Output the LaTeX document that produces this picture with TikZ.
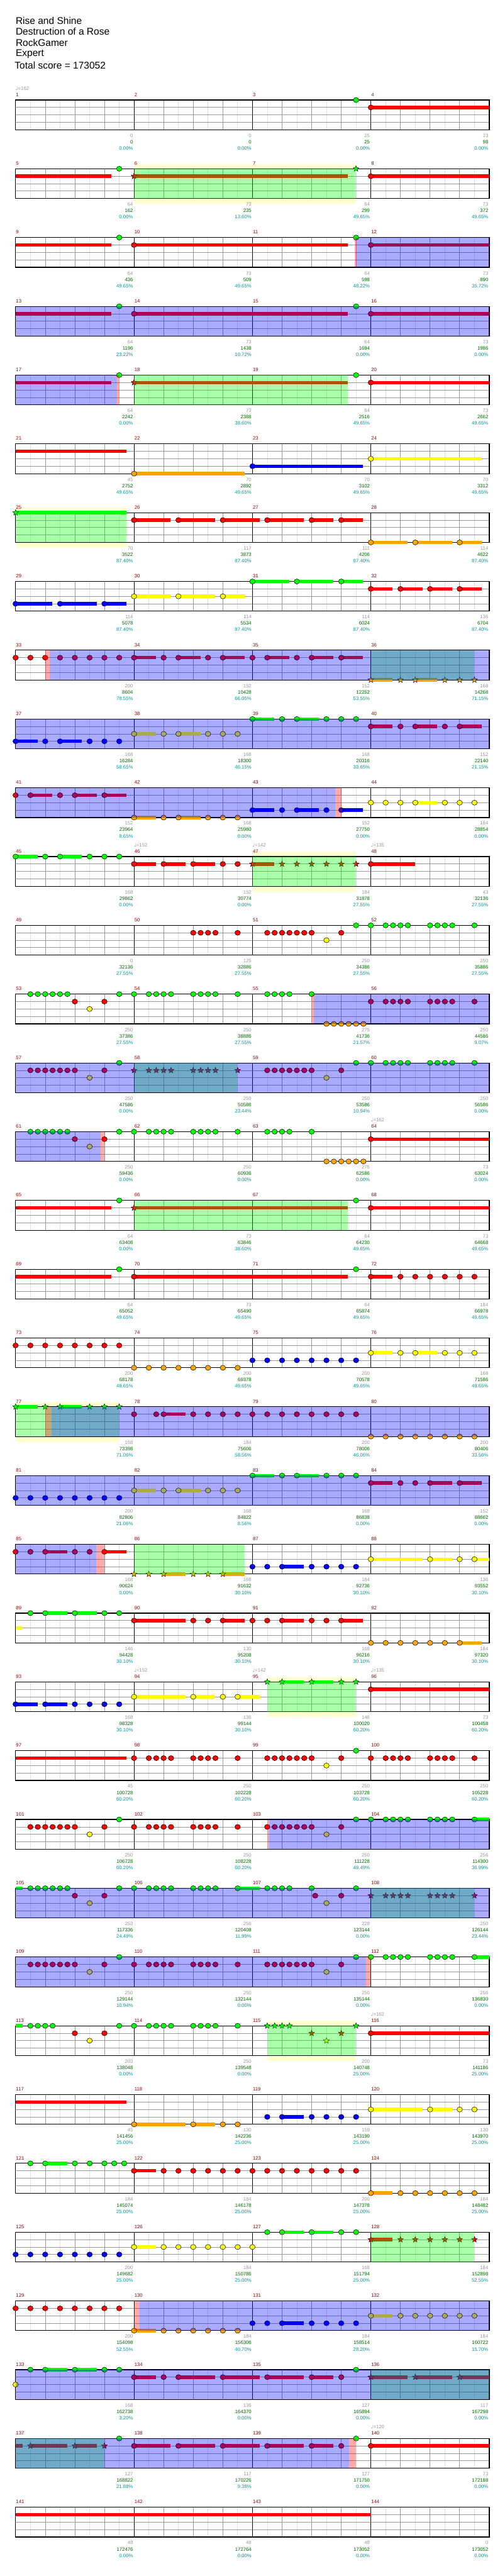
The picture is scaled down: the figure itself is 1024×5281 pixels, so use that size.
\documentclass[tikz,border=0pt]{standalone}
\usepackage{fontspec}
\setmainfont{Liberation Sans}
\newfontfamily\dejavu{DejaVu Sans}
\usetikzlibrary{shapes.geometric}
\definecolor{cG}{HTML}{00FF00}
\definecolor{cR}{HTML}{FF0000}
\definecolor{cY}{HTML}{FFFF00}
\definecolor{cB}{HTML}{0000FF}
\definecolor{cO}{HTML}{FFA500}
\definecolor{ybg}{HTML}{FFFFD0}
\definecolor{mnumc}{HTML}{990000}
\definecolor{grayc}{HTML}{999999}
\definecolor{greenc}{HTML}{006600}
\definecolor{tealc}{HTML}{009999}
\definecolor{halfc}{HTML}{E0E0E0}
\tikzset{
  noteline/.style={draw=black,line width=0.5pt},
  starnote/.style={star,star points=5,star point ratio=2.3,minimum size=9.5pt,inner sep=0pt,draw=black,line width=0.4pt},
  halfl/.style={draw=halfc,line width=0.75pt},
  beatl/.style={draw=grayc,line width=0.75pt},
  measl/.style={draw=black,line width=0.75pt},
  staffb/.style={draw=black,line width=1.1pt},
  mnum/.style={anchor=west,inner sep=0pt,text=mnumc,font=\fontsize{7.5}{9}\selectfont},
  ngray/.style={anchor=east,inner sep=0pt,text=grayc,font=\fontsize{7.5}{9}\selectfont},
  ngreen/.style={anchor=east,inner sep=0pt,text=greenc,font=\fontsize{7.5}{9}\selectfont},
  nteal/.style={anchor=east,inner sep=0pt,text=tealc,font=\fontsize{7.5}{9}\selectfont},
  tempost/.style={anchor=west,inner sep=0pt,text=grayc,font=\fontsize{7.5}{9}\selectfont},
  titlest/.style={anchor=west,inner sep=0pt,font=\fontsize{15}{18}\selectfont},
}
% notes
\newcommand\ntsdraw[3]{\foreach \p in {#3}{\draw[noteline,fill=#1] (\p,#2) ellipse [x radius=4.2pt,y radius=3.9pt];}}
\newcommand\noteG[1]{\ntsdraw{cG}{0}{#1}}
\newcommand\noteR[1]{\ntsdraw{cR}{15.25}{#1}}
\newcommand\noteY[1]{\ntsdraw{cY}{30.5}{#1}}
\newcommand\noteB[1]{\ntsdraw{cB}{45.75}{#1}}
\newcommand\noteO[1]{\ntsdraw{cO}{61}{#1}}
\newcommand\stsdraw[3]{\foreach \p in {#3}{\node[starnote,fill=#1] at (\p,#2) {};}}
\newcommand\starG[1]{\stsdraw{cG}{0}{#1}}
\newcommand\starR[1]{\stsdraw{cR}{15.25}{#1}}
\newcommand\starY[1]{\stsdraw{cY}{30.5}{#1}}
\newcommand\starO[1]{\stsdraw{cO}{61}{#1}}
\newcommand\susdraw[4]{\fill[#1] (#3,#2-3.5) rectangle (#4,#2+3.5);}
\newcommand\susG[2]{\susdraw{cG}{0}{#1}{#2}}
\newcommand\susR[2]{\susdraw{cR}{15.25}{#1}{#2}}
\newcommand\susY[2]{\susdraw{cY}{30.5}{#1}{#2}}
\newcommand\susB[2]{\susdraw{cB}{45.75}{#1}{#2}}
\newcommand\susO[2]{\susdraw{cO}{61}{#1}{#2}}
% overlays
\newcommand\ovG[2]{\fill[cG,opacity=0.3333] (#1,0) rectangle (#2,61);}
\newcommand\ovB[2]{\fill[cB,opacity=0.3333] (#1,0) rectangle (#2,61);}
\newcommand\ovR[2]{\fill[cR,opacity=0.3333] (#1,0) rectangle (#2,61);}
\newcommand\ybox[2]{\fill[ybg] (#1,-10) rectangle (#2,72);}
% rows
\newcommand\rowbegin[1]{\def\currow{#1}\pgfmathsetmacro\rowT{205+141*#1}\begin{scope}[shift={(32,\rowT)}]\begin{scope}[x=45.515625pt]}
\newcommand\rowend{\end{scope}\end{scope}}
\newcommand\staffgrid{%
  \fill[white] (0,0) rectangle (16,61);
  \foreach \i in {0.5,1.5,...,15.5} \draw[halfl] (\i,0) -- (\i,61);
  \foreach \i in {1,2,3,5,6,7,9,10,11,13,14,15} \draw[beatl] (\i,0) -- (\i,61);
  \foreach \j in {15.25,30.5,45.75} \draw[beatl] (0,\j) -- (16,\j);
  \foreach \i in {4,8,12} \draw[measl] (\i,0) -- (\i,61);
  \draw[staffb] (0,0) rectangle (16,61);
  \foreach \c in {0,1,2,3}{\pgfmathtruncatemacro\mm{4*\currow+\c+1}\node[mnum] (mn\mm) at (4*\c+0.01,-11) {\mm};}
}
\newcommand\scoreset[4]{%
  \node[ngray] (sg\currow c#1) at (4*#1+3.97,73) {#2};
  \node[ngreen] (sn\currow c#1) at (4*#1+3.97,86) {#3};
  \node[nteal] (sp\currow c#1) at (4*#1+3.97,99) {#4\%};}
\newcommand\tempolbl[2]{\node[tempost] (tp\currow c#1) at (4*#1,-24) {{\dejavu ♩}=#2};}

\begin{document}
\begin{tikzpicture}[x=0.75pt,y=-0.75pt]
\useasboundingbox (0,0) rectangle (1024,5281);
\fill[white] (0,0) rectangle (1024,5281);
\node[titlest] (t1) at (32,42) {Rise and Shine};
\node[titlest] (t2) at (32,65) {Destruction of a Rose};
\node[titlest] (t3) at (32,88) {RockGamer};
\node[titlest] (t4) at (32,111) {Expert};
\node[titlest] (t5) at (30,134) {Total score = 173052};

% row 0
\rowbegin{0}
\staffgrid
\tempolbl{0}{162}
\susR{12}{16}\noteG{11.5}\noteR{12}
\scoreset{0}{0}{0}{0.00}\scoreset{1}{0}{0}{0.00}\scoreset{2}{25}{25}{0.00}\scoreset{3}{73}{98}{0.00}
\rowend
% row 1
\rowbegin{1}
\ybox{4}{11.5}
\staffgrid
\susR{0}{3.24}\susR{4}{11.23}\susR{12}{16}
\noteG{3.5}\starR{4}\starG{11.5}\noteR{12}
\ovG{4}{11.5}
\scoreset{0}{64}{162}{0.00}\scoreset{1}{73}{235}{13.60}\scoreset{2}{64}{299}{49.65}\scoreset{3}{73}{372}{49.65}
\rowend
% row 2
\rowbegin{2}
\staffgrid
\susR{0}{3.24}\susR{4}{11.23}\susR{12}{16}
\noteG{3.5,11.5}\noteR{4,12}
\ovB{11.5}{16}\ovR{11.45}{11.52}
\scoreset{0}{64}{436}{49.65}\scoreset{1}{73}{509}{49.65}\scoreset{2}{64}{598}{48.22}\scoreset{3}{73}{890}{35.72}
\rowend
% row 3
\rowbegin{3}
\staffgrid
\susR{0}{3.24}\susR{4}{11.23}\susR{12}{16}
\noteG{3.5,11.5}\noteR{4,12}
\ovB{0}{16}
\scoreset{0}{64}{1196}{23.22}\scoreset{1}{73}{1438}{10.72}\scoreset{2}{64}{1694}{0.00}\scoreset{3}{73}{1986}{0.00}
\rowend
% row 4
\rowbegin{4}
\staffgrid
\susR{0}{3.24}\susR{4}{11.23}\susR{12}{16}
\noteG{3.5,11.5}\starR{4}\noteR{12}
\ovB{0}{3.42}\ovR{3.42}{3.5}\ovG{4}{11.23}
\scoreset{0}{64}{2242}{0.00}\scoreset{1}{73}{2388}{38.60}\scoreset{2}{64}{2516}{49.65}\scoreset{3}{73}{2662}{49.65}
\rowend
% row 5
\rowbegin{5}
\staffgrid
\susR{0}{3.74}\susO{4}{7.74}\susB{8}{11.74}\susY{12}{15.74}
\noteO{4}\noteB{8}\noteY{12}
\scoreset{0}{45}{2752}{49.65}\scoreset{1}{70}{2892}{49.65}\scoreset{2}{70}{3102}{49.65}\scoreset{3}{70}{3312}{49.65}
\rowend
% row 6
\rowbegin{6}
\ybox{0}{3.74}
\staffgrid
\susG{0}{3.74}\starG{0}
\susR{4}{5.24}\susR{5.5}{6.74}\susR{7}{8.24}\susR{8.5}{9.74}\susR{10}{10.74}\susR{11}{11.74}
\noteR{4,5.5,7,8.5,10,11}
\susO{12}{13.24}\susO{13.5}{14.74}\susO{15}{15.74}
\noteO{12,13.5,15}
\ovG{0}{3.74}
\scoreset{0}{70}{3522}{87.40}\scoreset{1}{117}{3873}{87.40}\scoreset{2}{111}{4206}{87.40}\scoreset{3}{114}{4622}{87.40}
\rowend
% row 7
\rowbegin{7}
\staffgrid
\susB{0}{1.24}\susB{1.5}{2.74}\susB{3}{3.74}\noteB{0,1.5,3}
\susY{4}{5.24}\susY{5.5}{6.74}\susY{7}{7.74}\noteY{4,5.5,7}
\susG{8}{9.24}\susG{9.5}{10.74}\susG{11}{11.74}\noteG{8,9.5,11}
\susR{12}{12.74}\susR{13}{13.74}\susR{14}{14.74}\susR{15}{15.74}\noteR{12,13,14,15}
\scoreset{0}{114}{5078}{87.40}\scoreset{1}{114}{5534}{87.40}\scoreset{2}{114}{6024}{87.40}\scoreset{3}{136}{6704}{87.40}
\rowend
% row 8
\rowbegin{8}
\staffgrid
\susR{4}{4.74}\susR{5.5}{6.24}\susR{7}{7.74}\susR{8.5}{9.24}\susR{10}{10.74}\susR{11}{11.74}
\noteR{0,0.5,1,1.5,2,2.5,3,3.5,4,5,5.5,6.5,7,8,8.5,9.5,10,11}
\susO{12}{12.74}\susO{13.5}{14.24}
\starO{12,13,13.5,14.5,15,15.5}
\ovG{12}{15.5}\ovB{1.16}{16}\ovR{1}{1.16}
\scoreset{0}{200}{8604}{78.55}\scoreset{1}{152}{10428}{66.05}\scoreset{2}{152}{12252}{53.55}\scoreset{3}{168}{14268}{71.15}
\rowend
% row 9
\rowbegin{9}
\staffgrid
\susB{0}{0.74}\susB{1.5}{2.24}\noteB{0,1,1.5,2.5,3,3.5}
\susY{4}{4.74}\susY{5.5}{6.24}\noteY{4,5,5.5,6.5,7,7.5}
\susG{8}{8.74}\susG{9.5}{10.24}\noteG{8,9,9.5,10.5,11,11.5}
\susR{12}{12.74}\susR{13.5}{14.24}\susR{15}{15.74}\noteR{12,13,13.5,14.5,15}
\ovB{0}{16}
\scoreset{0}{168}{16284}{58.65}\scoreset{1}{168}{18300}{46.15}\scoreset{2}{168}{20316}{33.65}\scoreset{3}{152}{22140}{21.15}
\rowend
% row 10
\rowbegin{10}
\staffgrid
\susR{0.5}{1.24}\susR{2}{2.74}\susR{3}{3.74}\noteR{0,0.5,1.5,2,3}
\susO{4}{4.74}\susO{5.5}{6.24}\noteO{4,5,5.5,6.5,7,7.5}
\susB{8}{8.74}\susB{9.5}{10.24}\susB{11}{11.74}\noteB{8,9,9.5,10.5,11}
\susY{13.5}{14.24}\noteY{12,12.5,13,13.5,14.5,15,15.5}
\ovB{0}{10.8}\ovR{10.8}{11}
\scoreset{0}{152}{23964}{8.65}\scoreset{1}{168}{25980}{0.00}\scoreset{2}{152}{27750}{0.00}\scoreset{3}{184}{28854}{0.00}
\rowend
% row 11
\rowbegin{11}
\ybox{8}{11.5}
\staffgrid
\tempolbl{1}{152}\tempolbl{2}{142}\tempolbl{3}{135}
\susG{0}{0.74}\susG{1.5}{2.24}\noteG{0,1,1.5,2.5,3,3.5}
\susR{4}{4.74}\susR{5}{5.74}\susR{6}{6.74}\noteR{4,5,6,7,7.5}
\susR{8}{8.74}\starR{8,9,9.5,10,10.5,11,11.5}
\susR{12}{13.49}\noteR{12}
\ovG{8}{11.5}
\scoreset{0}{168}{29862}{0.00}\scoreset{1}{152}{30774}{0.00}\scoreset{2}{184}{31878}{27.55}\scoreset{3}{43}{32136}{27.55}
\rowend
% row 12
\rowbegin{12}
\staffgrid
\noteR{6,6.25,6.5,6.75,7.5,8.5,8.75,9,9.25,9.5,9.75,10,11}
\noteY{10.5}
\noteG{11.5,12,12.5,12.75,13,13.25,14,14.25,14.5,14.75,15.5}
\scoreset{0}{0}{32136}{27.55}\scoreset{1}{125}{32886}{27.55}\scoreset{2}{250}{34386}{27.55}\scoreset{3}{250}{35886}{27.55}
\rowend
% row 13
\rowbegin{13}
\staffgrid
\noteG{0.5,0.75,1,1.25,1.5,1.75,3.5,4,4.5,4.75,5,5.25,6,6.25,6.5,6.75,7.5,8.5,8.75,9,9.25,10}
\noteR{2,3}\noteY{2.5}
\noteO{10.5,10.75,11,11.25,11.5,11.75}
\noteR{12,12.5,12.75,13,13.25,14,14.25,14.5,14.75,15.5}
\ovB{10.07}{16}\ovR{10}{10.07}
\scoreset{0}{250}{37386}{27.55}\scoreset{1}{250}{38886}{27.55}\scoreset{2}{275}{41736}{21.57}\scoreset{3}{250}{44586}{9.07}
\rowend
% row 14
\rowbegin{14}
\staffgrid
\noteR{0.5,0.75,1,1.25,1.5,1.75,2,3}\noteY{2.5}\noteG{3.5}
\starR{4,4.5,4.75,5,5.25,6,6.25,6.5,6.75,7.5}
\noteR{8.5,8.75,9,9.25,9.5,9.75,10,11}\noteY{10.5}
\noteG{11.5,12,12.5,12.75,13,13.25,14,14.25,14.5,14.75,15.5}
\ovG{4}{7.5}\ovB{0}{16}
\scoreset{0}{250}{47586}{0.00}\scoreset{1}{250}{50586}{23.44}\scoreset{2}{250}{53586}{10.94}\scoreset{3}{250}{56586}{0.00}
\rowend
% row 15
\rowbegin{15}
\staffgrid
\tempolbl{3}{162}
\noteG{0.5,0.75,1,1.25,1.5,1.75,3.5,4,4.5,4.75,5,5.25,6,6.25,6.5,6.75,7.5,8.5,8.75,9,9.25,10}
\noteR{2,3}\noteY{2.5}
\noteO{10.5,10.75,11,11.25,11.5,11.75}
\susR{12}{16}\noteR{12}
\ovB{0}{2.88}\ovR{2.88}{3}
\scoreset{0}{250}{59436}{0.00}\scoreset{1}{250}{60936}{0.00}\scoreset{2}{275}{62586}{0.00}\scoreset{3}{73}{63024}{0.00}
\rowend
% row 16
\rowbegin{16}
\staffgrid
\susR{0}{3.24}\susR{4}{11.23}\susR{12}{16}
\noteG{3.5,11.5}\starR{4}\noteR{12}
\ovG{4}{11.23}
\scoreset{0}{64}{63408}{0.00}\scoreset{1}{73}{63846}{38.60}\scoreset{2}{64}{64230}{49.65}\scoreset{3}{73}{64668}{49.65}
\rowend
% row 17
\rowbegin{17}
\staffgrid
\susR{0}{3.24}\susR{4}{11.23}\susR{12}{12.74}
\noteG{3.5,11.5}\noteR{4,12,13,13.5,14,14.5,15,15.5}
\scoreset{0}{64}{65052}{49.65}\scoreset{1}{73}{65490}{49.65}\scoreset{2}{64}{65874}{49.65}\scoreset{3}{184}{66978}{49.65}
\rowend
% row 18
\rowbegin{18}
\staffgrid
\noteR{0,0.5,1,1.5,2,2.5,3,3.5}
\noteO{4,4.5,5,5.5,6,6.5,7,7.5}
\noteB{8,8.5,9,9.5,10,10.5,11,11.5}
\susY{12}{12.74}\susY{13.5}{14.24}\noteY{12,13,13.5,14.5,15,15.5}
\scoreset{0}{200}{68178}{49.65}\scoreset{1}{200}{69378}{49.65}\scoreset{2}{200}{70578}{49.65}\scoreset{3}{168}{71586}{49.65}
\rowend
% row 19
\rowbegin{19}
\ybox{0}{3.5}
\staffgrid
\susG{0}{0.74}\susG{1.5}{2.24}\starG{0,1,1.5,2.5,3,3.5}
\susR{5}{5.74}\noteR{4,4.75,5,6,6.5,7,7.5,8,8.5,9,9.5,10,10.5,11,11.5}
\noteO{12,12.5,13,13.5,14,14.5,15,15.5}
\ovG{0}{3.5}\ovB{1.21}{16}\ovR{1}{1.21}
\scoreset{0}{168}{73398}{71.06}\scoreset{1}{184}{75606}{58.56}\scoreset{2}{200}{78006}{46.06}\scoreset{3}{200}{80406}{33.56}
\rowend
% row 20
\rowbegin{20}
\staffgrid
\noteB{0,0.5,1,1.5,2,2.5,3,3.5}
\susY{4}{4.74}\susY{5.5}{6.24}\noteY{4,5,5.5,6.5,7,7.5}
\susG{8}{8.74}\susG{9.5}{10.24}\noteG{8,9,9.5,10.5,11,11.5}
\susR{12}{12.74}\susR{14}{14.74}\susR{15}{15.74}\noteR{12,13,13.5,14,15}
\ovB{0}{16}
\scoreset{0}{200}{82806}{21.06}\scoreset{1}{168}{84822}{8.56}\scoreset{2}{168}{86838}{0.00}\scoreset{3}{152}{88662}{0.00}
\rowend
% row 21
\rowbegin{21}
\staffgrid
\susR{1}{1.74}\susR{3}{3.74}\noteR{0,0.5,1,2,2.5,3}
\susO{5}{5.74}\susO{7}{7.74}\starO{4,4.5,5,6,6.5,7}
\susB{9}{9.74}\noteB{8,8.5,9,10,10.5,11,11.5}
\susY{12}{13.74}\susY{14}{14.74}\susY{15.5}{16}\noteY{12,14,15,15.5}
\ovG{4}{7.74}\ovB{0}{2.73}\ovR{2.73}{3}
\scoreset{0}{168}{90624}{0.00}\scoreset{1}{168}{91632}{30.10}\scoreset{2}{184}{92736}{30.10}\scoreset{3}{136}{93552}{30.10}
\rowend
% row 22
\rowbegin{22}
\staffgrid
\susY{0}{0.24}
\susG{1}{1.74}\susG{2}{2.74}\noteG{0.5,1,2,3,3.5}
\susR{4}{5.74}\susR{7}{7.74}\susR{9}{9.74}\susR{11}{11.74}\noteR{4,6,6.5,7,8,8.5,9,10,10.5,11}
\susO{15}{15.74}\noteO{12,12.5,13,13.5,14,14.5,15}
\scoreset{0}{146}{94428}{30.10}\scoreset{1}{130}{95208}{30.10}\scoreset{2}{168}{96216}{30.10}\scoreset{3}{184}{97320}{30.10}
\rowend
% row 23
\rowbegin{23}
\ybox{8.5}{11.5}
\staffgrid
\tempolbl{1}{152}\tempolbl{2}{142}\tempolbl{3}{135}
\susB{0}{0.74}\susB{1}{1.74}\noteB{0,1,2,2.5,3,3.5}
\susY{4}{5.74}\susY{6}{6.74}\susY{7.5}{8.24}\noteY{4,6,7,7.5}
\susG{9}{9.74}\susG{10}{10.74}\starG{8.5,9,10,11,11.5}
\susR{12}{16}\noteR{12}
\ovG{8.5}{11.5}
\scoreset{0}{168}{98328}{30.10}\scoreset{1}{136}{99144}{30.10}\scoreset{2}{146}{100020}{60.20}\scoreset{3}{73}{100458}{60.20}
\rowend
% row 24
\rowbegin{24}
\staffgrid
\susR{0}{3.74}
\noteR{4,4.5,4.75,5,5.25,6,6.25,6.5,6.75,7.5,8.5,8.75,9,9.25,9.5,9.75,10,11,12,12.5,12.75,13,13.25,14,14.25,14.5,14.75,15.5}
\noteY{10.5}\noteG{11.5}
\scoreset{0}{45}{100728}{60.20}\scoreset{1}{250}{102228}{60.20}\scoreset{2}{250}{103728}{60.20}\scoreset{3}{250}{105228}{60.20}
\rowend
% row 25
\rowbegin{25}
\staffgrid
\noteR{0.5,0.75,1,1.25,1.5,1.75,2,3,4,4.5,4.75,5,5.25,6,6.25,6.5,6.75,7.5,8.5,8.75,9,9.25,9.5,9.75,10,11}
\noteY{2.5,10.5}
\susG{15.5}{16}
\noteG{3.5,11.5,12,12.5,12.75,13,13.25,14,14.25,14.5,14.75,15.5}
\ovB{8.56}{16}\ovR{8.5}{8.56}
\scoreset{0}{250}{106728}{60.20}\scoreset{1}{250}{108228}{60.20}\scoreset{2}{250}{111228}{49.49}\scoreset{3}{256}{114300}{36.99}
\rowend
% row 26
\rowbegin{26}
\staffgrid
\susG{0}{0.24}\susG{7.5}{8.24}
\noteG{0.5,0.75,1,1.25,1.5,1.75,3.5,4,4.5,4.75,5,5.25,6,6.25,6.5,6.75,7.5,8.5,8.75,9,9.25,10,11.5}
\noteR{2,3,10.12,11}\noteY{2.5,10.5}
\starR{12,12.5,12.75,13,13.25,14,14.25,14.5,14.75,15.5}
\ovG{12}{15.5}\ovB{0}{16}
\scoreset{0}{253}{117336}{24.49}\scoreset{1}{256}{120408}{11.99}\scoreset{2}{228}{123144}{0.00}\scoreset{3}{250}{126144}{23.44}
\rowend
% row 27
\rowbegin{27}
\staffgrid
\noteR{0.5,0.75,1,1.25,1.5,1.75,2,3,4,4.5,4.75,5,5.25,6,6.25,6.5,6.75,7.5,8.5,8.75,9,9.25,9.5,9.75,10,11}
\noteY{2.5,10.5}
\susG{15.5}{16}
\noteG{3.5,11.5,12,12.5,12.75,13,13.25,14,14.25,14.5,14.75,15.5}
\ovB{0}{11.84}\ovR{11.84}{12}
\scoreset{0}{250}{129144}{10.94}\scoreset{1}{250}{132144}{0.00}\scoreset{2}{250}{135144}{0.00}\scoreset{3}{256}{136830}{0.00}
\rowend
% row 28
\rowbegin{28}
\ybox{8.5}{11.5}
\staffgrid
\tempolbl{3}{162}
\susG{0}{0.24}
\noteG{0.5,0.75,1,1.25,3.5,4,4.5,4.75,5,5.25,6,6.25,6.5,6.75,7.5}
\noteR{2,3}\noteY{2.5}
\starG{8.5,8.75,9,9.25,11.5}\starR{10,11}\starY{10.5}
\susR{12}{16}\noteR{12}
\ovG{8.5}{11.5}
\scoreset{0}{203}{138048}{0.00}\scoreset{1}{250}{139548}{0.00}\scoreset{2}{200}{140748}{25.00}\scoreset{3}{73}{141186}{25.00}
\rowend
% row 29
\rowbegin{29}
\staffgrid
\susR{0}{3.74}
\susO{4}{5.74}\susO{6}{6.74}\noteO{4,6,7,7.5}
\susB{9}{9.74}\noteB{8.5,9,10,10.5,11,11.5}
\susY{12}{13.74}\susY{14}{14.74}\noteY{12,14,15,15.5}
\scoreset{0}{45}{141456}{25.00}\scoreset{1}{130}{142236}{25.00}\scoreset{2}{159}{143190}{25.00}\scoreset{3}{130}{143970}{25.00}
\rowend
% row 30
\rowbegin{30}
\staffgrid
\susG{1}{1.74}\noteG{0.5,1,2,2.5,3,3.333,3.667}
\susR{4}{4.74}\noteR{4,5,5.5,6,6.5,7,7.5,8,8.5,9,9.5,10,10.5,11,11.5}
\susO{12}{12.74}\noteO{12,13,13.5,14,14.5,15,15.5}
\scoreset{0}{184}{145074}{25.00}\scoreset{1}{184}{146178}{25.00}\scoreset{2}{200}{147378}{25.00}\scoreset{3}{184}{148482}{25.00}
\rowend
% row 31
\rowbegin{31}
\staffgrid
\noteB{0,0.5,1,1.5,2,2.5,3,3.5}
\susY{4}{4.74}\noteY{4,5,5.5,6,6.5,7,7.5,8}
\susG{9}{9.74}\susG{10}{10.74}\noteG{8.5,9,10,11,11.5}
\susR{12}{12.74}\starR{12,13,13.5,14,14.5,15,15.5}
\ovG{12}{15.5}
\scoreset{0}{200}{149682}{25.00}\scoreset{1}{184}{150786}{25.00}\scoreset{2}{168}{151794}{25.00}\scoreset{3}{184}{152898}{52.55}
\rowend
% row 32
\rowbegin{32}
\staffgrid
\noteR{0,0.5,1,1.5,2,2.5,3,3.5}
\susO{4}{4.74}\noteO{4,5,5.5,6,6.5,7,7.5}
\susB{9}{9.74}\noteB{8,8.5,9,10,10.5,11,11.5}
\susY{12}{12.74}\noteY{12,13,13.5,14,14.5,15,15.5}
\ovB{4.18}{16}\ovR{4}{4.18}
\scoreset{0}{200}{154098}{52.55}\scoreset{1}{184}{156306}{40.70}\scoreset{2}{184}{158514}{28.20}\scoreset{3}{184}{160722}{15.70}
\rowend
% row 33
\rowbegin{33}
\staffgrid
\noteY{0}
\susG{1}{1.74}\susG{2}{2.74}\noteG{0.5,1,2,3,3.5,11.5}
\susR{4}{4.74}\susR{5.5}{6.74}\susR{7}{8.24}\susR{8.5}{9.74}\susR{10}{10.74}\noteR{4,5,5.5,7,8.5,10,11}
\susR{12}{13.24}\susR{13.5}{14.74}\susR{15}{16}\starR{12,13.5,15}
\ovG{12}{16}\ovB{0}{16}
\scoreset{0}{168}{162738}{3.20}\scoreset{1}{136}{164370}{0.00}\scoreset{2}{127}{165894}{0.00}\scoreset{3}{117}{167298}{0.00}
\rowend
% row 34
\rowbegin{34}
\staffgrid
\tempolbl{3}{120}
\susR{0}{0.24}\susR{0.5}{1.74}\susR{2}{2.74}\starR{0.5,2,3}
\noteG{3.5,11.5}
\susR{4}{5.24}\susR{5.5}{6.74}\susR{7}{8.24}\susR{8.5}{9.74}\susR{10}{10.74}\noteR{4,5.5,7,8.5,10,11}
\susR{12}{16}\noteR{12}
\ovG{0}{3}\ovB{0}{11.27}\ovR{11.27}{11.5}
\scoreset{0}{127}{168822}{21.88}\scoreset{1}{117}{170226}{9.38}\scoreset{2}{127}{171750}{0.00}\scoreset{3}{73}{172188}{0.00}
\rowend
% row 35
\rowbegin{35}
\staffgrid
\susR{0}{12}
\scoreset{0}{48}{172476}{0.00}\scoreset{1}{48}{172764}{0.00}\scoreset{2}{48}{173052}{0.00}\scoreset{3}{0}{173052}{0.00}
\rowend
\end{tikzpicture}
\end{document}
